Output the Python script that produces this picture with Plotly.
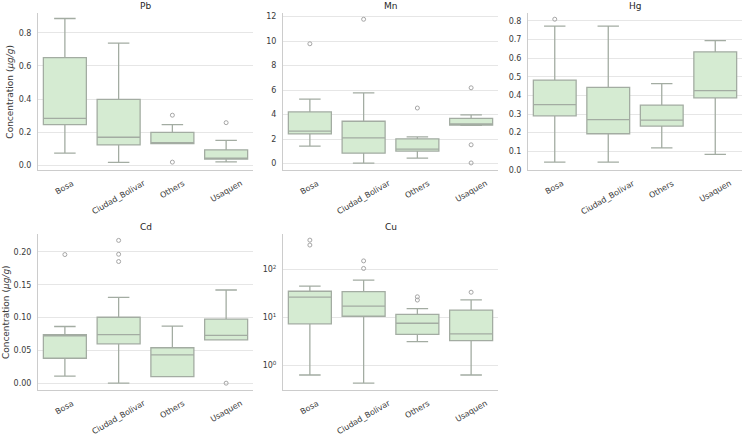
import plotly.graph_objects as go

cats = ["Bosa", "Ciudad_Bolivar", "Others", "Usaquen"]

# Pb
pb_q1 = [0.246, 0.124, 0.132, 0.038]
pb_med = [0.284, 0.170, 0.136, 0.042]
pb_q3 = [0.650, 0.398, 0.200, 0.094]
pb_lo = [0.074, 0.018, 0.132, 0.022]
pb_hi = [0.886, 0.738, 0.246, 0.151]
pb_out_x = ["Others", "Others", "Usaquen"]
pb_out_y = [0.303, 0.020, 0.258]

# Mn
mn_q1 = [2.43, 0.86, 1.03, 3.14]
mn_med = [2.65, 2.11, 1.19, 3.24]
mn_q3 = [4.22, 3.46, 2.03, 3.70]
mn_lo = [1.43, 0.05, 0.46, 3.12]
mn_hi = [5.27, 5.78, 2.19, 3.98]
mn_out_x = ["Bosa", "Ciudad_Bolivar", "Others", "Usaquen", "Usaquen", "Usaquen"]
mn_out_y = [9.78, 11.78, 4.54, 6.19, 1.54, 0.06]

# Hg
hg_q1 = [0.290, 0.194, 0.235, 0.387]
hg_med = [0.350, 0.270, 0.267, 0.426]
hg_q3 = [0.482, 0.443, 0.348, 0.634]
hg_lo = [0.042, 0.042, 0.118, 0.083]
hg_hi = [0.772, 0.772, 0.463, 0.694]
hg_out_x = ["Bosa"]
hg_out_y = [0.809]

# Cd
cd_q1 = [0.038, 0.060, 0.010, 0.066]
cd_med = [0.072, 0.074, 0.043, 0.073]
cd_q3 = [0.074, 0.1005, 0.054, 0.0975]
cd_lo = [0.0106, 0.0, 0.010, 0.066]
cd_hi = [0.0864, 0.1307, 0.087, 0.142]
cd_out_x = ["Bosa", "Ciudad_Bolivar", "Ciudad_Bolivar", "Ciudad_Bolivar", "Usaquen"]
cd_out_y = [0.196, 0.2176, 0.1965, 0.1854, 0.0]

# Cu
cu_q1 = [7.3, 10.5, 4.4, 3.24]
cu_med = [26.3, 17.1, 7.5, 4.5]
cu_q3 = [35.0, 34.5, 11.5, 14.1]
cu_lo = [0.62, 0.42, 3.1, 0.62]
cu_hi = [45.0, 60.0, 15.1, 23.2]
cu_out_x = ["Bosa", "Bosa", "Ciudad_Bolivar", "Ciudad_Bolivar", "Others", "Others", "Usaquen"]
cu_out_y = [411, 324, 151, 105, 26.8, 22.9, 33.4]

W, H = 745, 437
FONT = "DejaVu Sans"
FILL = "rgb(213,235,210)"
LINE = "rgb(163,172,162)"
TXT = "#3a3a3a"

panels = [
    dict(name="Pb", q1=pb_q1, med=pb_med, q3=pb_q3, lo=pb_lo, hi=pb_hi, ox=pb_out_x, oy=pb_out_y,
         xpx=(38, 253), ypx=(13, 172), rng=[-0.03, 0.92], dtick=0.2, fmt=".1f", log=False, ytitle=10),
    dict(name="Mn", q1=mn_q1, med=mn_med, q3=mn_q3, lo=mn_lo, hi=mn_hi, ox=mn_out_x, oy=mn_out_y,
         xpx=(283, 498), ypx=(13, 172), rng=[-0.55, 12.3], dtick=2, fmt="d", log=False, ytitle=None),
    dict(name="Hg", q1=hg_q1, med=hg_med, q3=hg_q3, lo=hg_lo, hi=hg_hi, ox=hg_out_x, oy=hg_out_y,
         xpx=(528, 742), ypx=(13, 172), rng=[-0.003, 0.843], dtick=0.1, fmt=".1f", log=False, ytitle=None),
    dict(name="Cd", q1=cd_q1, med=cd_med, q3=cd_q3, lo=cd_lo, hi=cd_hi, ox=cd_out_x, oy=cd_out_y,
         xpx=(38, 253), ypx=(236, 394), rng=[-0.011, 0.2276], dtick=0.05, fmt=".2f", log=False, ytitle=6),
    dict(name="Cu", q1=cu_q1, med=cu_med, q3=cu_q3, lo=cu_lo, hi=cu_hi, ox=cu_out_x, oy=cu_out_y,
         xpx=(283, 498), ypx=(236, 394), rng=[-0.53, 2.745], dtick=None, fmt=None, log=True, ytitle=None),
]

fig = go.Figure()
layout = dict(
    width=W, height=H, margin=dict(l=0, r=0, t=0, b=0),
    paper_bgcolor="white", plot_bgcolor="white",
    showlegend=False, font=dict(family=FONT, color=TXT, size=8),
)
annotations = []

for i, p in enumerate(panels, start=1):
    xa = "x" if i == 1 else f"x{i}"
    ya = "y" if i == 1 else f"y{i}"
    xkey = "xaxis" if i == 1 else f"xaxis{i}"
    ykey = "yaxis" if i == 1 else f"yaxis{i}"

    fig.add_trace(go.Box(
        x=cats, q1=p["q1"], median=p["med"], q3=p["q3"],
        lowerfence=p["lo"], upperfence=p["hi"],
        boxpoints=False, width=0.8, whiskerwidth=0.5,
        fillcolor=FILL, line=dict(color=LINE, width=1.3),
        xaxis=xa, yaxis=ya, hoverinfo="skip",
    ))
    fig.add_trace(go.Scatter(
        x=p["ox"], y=p["oy"], mode="markers",
        marker=dict(symbol="circle-open", size=4, color="rgb(165,165,165)", line=dict(width=1)),
        xaxis=xa, yaxis=ya, hoverinfo="skip",
    ))

    x0, x1 = p["xpx"]
    yt, yb = p["ypx"]
    layout[xkey] = dict(
        domain=[x0 / W, x1 / W], anchor=ya, type="category",
        categoryorder="array", categoryarray=cats,
        range=[-0.5, 3.5], showticklabels=False, showgrid=False,
        showline=True, linecolor="#cccccc", linewidth=1, zeroline=False, ticks="",
    )
    yax = dict(
        domain=[1 - yb / H, 1 - yt / H], anchor=xa,
        showgrid=True, gridcolor="#e6e6e6", gridwidth=1,
        showline=True, linecolor="#cccccc", linewidth=1, zeroline=False,
        ticks="", ticklabelstandoff=4, tickfont=dict(size=8, color=TXT, family=FONT),
    )
    if p["log"]:
        yax.update(type="log", range=p["rng"], tickvals=[1, 10, 100],
                   ticktext=["10<sup>0</sup>", "10<sup>1</sup>", "10<sup>2</sup>"])
    else:
        yax.update(range=p["rng"], dtick=p["dtick"], tick0=0, tickformat=p["fmt"])
    layout[ykey] = yax

    # subplot title
    annotations.append(dict(
        text=p["name"], xref="paper", yref="paper",
        x=(x0 + x1) / 2 / W, y=1 - (yt - 7) / H, xanchor="center", yanchor="middle",
        showarrow=False, font=dict(size=9, color="#262626", family=FONT),
    ))
    # y title
    if p["ytitle"] is not None:
        annotations.append(dict(
            text="Concentration (<i>μg/g</i>)", xref="paper", yref="paper",
            x=p["ytitle"] / W, y=1 - (yt + yb) / 2 / H, xanchor="center", yanchor="middle",
            textangle=-90, showarrow=False, font=dict(size=9, color=TXT, family=FONT),
        ))
    # rotated category labels
    for c in cats:
        annotations.append(dict(
            text=c, xref=xa, yref=f"{ya} domain", x=c, y=-6 / (yb - yt),
            xanchor="center", yanchor="top", textangle=-30, showarrow=False,
            font=dict(size=8, color=TXT, family=FONT),
        ))

layout["annotations"] = annotations
fig.update_layout(**layout)
fig.write_html("out.html")
